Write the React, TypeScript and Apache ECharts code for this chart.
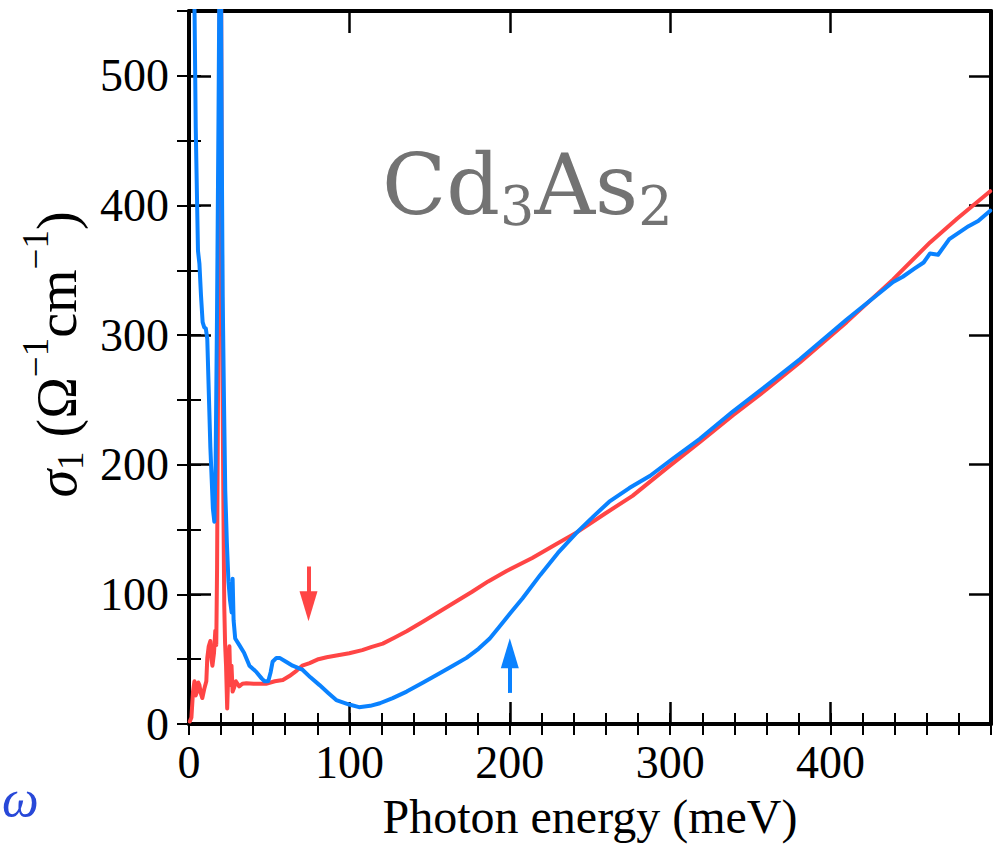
import React, { useEffect, useRef } from "react";
import * as echarts from "echarts";

// ---- data ----
const xTickValues = [0, 100, 200, 300, 400];
const yTickValues = [0, 100, 200, 300, 400, 500];

// red curve: [photon energy (meV), sigma1 (Ohm^-1 cm^-1)]
const redPoints: [number, number][] = [
  [0.5, 2], [1.5, 5], [2.5, 25], [3.4, 33], [4.2, 22], [5.0, 25], [5.8, 32], [6.5, 30],
  [7.3, 24], [8.3, 20], [9.5, 27], [10.8, 33], [11.4, 51], [12.3, 60], [13.3, 64], [14.0, 50],
  [14.6, 45], [15.6, 55], [16.4, 72], [17.0, 61], [17.5, 120], [18.2, 280], [18.8, 450],
  [19.2, 620], [19.9, 620], [20.4, 420], [20.9, 260], [21.5, 160], [22.0, 90], [22.5, 62],
  [23.1, 45], [23.8, 12], [24.5, 40], [25.2, 60], [25.8, 30], [26.5, 45], [27.2, 25],
  [28.1, 28], [29.2, 33], [31.3, 29], [33.3, 31], [35.8, 31.5], [40.3, 31], [48, 31],
  [53.5, 33], [58.5, 34], [62.6, 37], [67, 41], [70.6, 45], [75.2, 47], [80.7, 50],
  [85.8, 51.5], [92.8, 53], [99.9, 54.6], [108, 57], [114, 59.5], [120.8, 62], [128, 66.5],
  [135.7, 71.5], [146, 79], [156.5, 87], [166.5, 94.5], [176.5, 102], [186.5, 110], [198, 118],
  [214, 128], [228, 138], [242, 148], [259, 162], [276.5, 176], [297.5, 197], [319, 218],
  [339, 238], [360, 258], [381, 279], [410, 310], [439, 343], [462, 371.5], [479, 390],
  [499.5, 411],
];

// blue curve
const bluePoints: [number, number][] = [
  [2.5, 620], [3.5, 545], [4.2, 460], [5.0, 405], [5.6, 365], [6.5, 355], [7.5, 330],
  [8.5, 310], [9.5, 306], [10.5, 305], [11.4, 297], [12.2, 262], [13.3, 214], [14.1, 190],
  [14.9, 166], [15.8, 156], [16.6, 200], [17.5, 320], [18.4, 470], [19.2, 620], [19.8, 620],
  [20.4, 450], [21.0, 330], [21.8, 250], [22.6, 180], [23.6, 140], [24.6, 110], [25.6, 95],
  [26.6, 86], [27.2, 112], [27.8, 80], [28.8, 66], [31.3, 61], [34.3, 55], [37.7, 45],
  [42.1, 40], [45.4, 35], [47.1, 33], [49.4, 33], [50.9, 40], [52.1, 48], [54.5, 51],
  [56.5, 51], [60.5, 48], [64.6, 45], [70.6, 42], [75.7, 36], [81.4, 30], [86.8, 24],
  [91.8, 18.5], [99.9, 15], [106, 13], [113, 14], [119, 16], [127, 20], [135.7, 25],
  [146, 32], [156, 39], [164.5, 45], [173, 51], [180.5, 58], [187.5, 66], [193.5, 75],
  [200, 85], [208, 97], [219, 115], [230, 132], [242, 148], [252, 160], [262, 171.5],
  [274.5, 182], [287.5, 191.5], [301.5, 204.6], [318.5, 220], [339, 241], [360, 261],
  [381, 281.5], [410, 312], [439, 341], [445, 345], [452, 351], [458, 356], [462, 363],
  [467, 362], [474, 374], [480, 379], [486, 384], [492, 388], [499.5, 396],
];

// arrow annotations (data coordinates)
const redArrow = { x: 74.5, from: 121.5, to: 90.8 };
const blueArrow = { x: 200, from: 24, to: 54.6 };

const RED = "#ff4545";
const BLUE = "#0a82ff";
const serif = "'Liberation Serif', 'Times New Roman', serif";

function majorX(position: "bottom" | "top", withLabels: boolean) {
  return {
    type: "value",
    position,
    min: 0,
    max: 500,
    interval: 100,
    axisLine: { show: true, onZero: false, lineStyle: { color: "#000", width: 4 } },
    axisTick: { show: true, inside: true, length: 22, lineStyle: { color: "#000", width: 2.5 } },
    axisLabel: {
      show: withLabels,
      showMaxLabel: false,
      margin: 15,
      fontSize: 46,
      fontFamily: serif,
      color: "#000",
      formatter: (v: number) => (xTickValues.includes(v) ? String(v) : ""),
    },
    splitLine: { show: false },
    ...(withLabels
      ? {
          name: "Photon energy (meV)",
          nameLocation: "middle",
          nameGap: 68,
          nameTextStyle: { fontSize: 48, fontFamily: serif, color: "#000" },
        }
      : {}),
  };
}

function minorX(position: "bottom" | "top") {
  return {
    type: "value",
    position,
    min: 0,
    max: 500,
    interval: 20,
    axisLine: { show: false },
    axisTick: { show: true, inside: true, length: 11, lineStyle: { color: "#000", width: 2 } },
    axisLabel: { show: false },
    splitLine: { show: false },
  };
}

function majorY(position: "left" | "right", withLabels: boolean) {
  return {
    type: "value",
    position,
    min: 0,
    max: 550,
    interval: 100,
    axisLine: { show: true, onZero: false, lineStyle: { color: "#000", width: 4 } },
    axisTick: { show: true, inside: true, length: 22, lineStyle: { color: "#000", width: 2.5 } },
    axisLabel: {
      show: withLabels,
      showMaxLabel: false,
      margin: 20,
      fontSize: 46,
      fontFamily: serif,
      color: "#000",
      formatter: (v: number) => (yTickValues.includes(v) ? String(v) : ""),
    },
    splitLine: { show: false },
    ...(withLabels
      ? {
          name: "{it|σ}{sub|1}{n| (Ω}{sup|−1}{n|cm}{sup|−1}{n|)}",
          nameLocation: "middle",
          nameRotate: 90,
          nameGap: 100,
          nameTextStyle: {
            fontFamily: serif,
            color: "#000",
            padding: [0, 0, 0, 26],
            rich: {
              it: { fontSize: 56, fontFamily: serif, fontStyle: "italic", color: "#000", lineHeight: 56, verticalAlign: "top", padding: [12, 0, 0, 0] },
              n: { fontSize: 56, fontFamily: serif, color: "#000", lineHeight: 56, verticalAlign: "top", padding: [12, 0, 0, 0] },
              sub: { fontSize: 37, fontFamily: serif, color: "#000", lineHeight: 37, verticalAlign: "top", padding: [35, 0, 0, 0] },
              sup: { fontSize: 37, fontFamily: serif, color: "#000", lineHeight: 37, verticalAlign: "top" },
            },
          },
        }
      : {}),
  };
}

function minorY(position: "left" | "right") {
  return {
    type: "value",
    position,
    min: 0,
    max: 550,
    interval: 50,
    axisLine: { show: false },
    axisTick: { show: true, inside: true, length: 12, lineStyle: { color: "#000", width: 2 } },
    axisLabel: { show: false },
    splitLine: { show: false },
  };
}

function arrowLine(color: string, a: { x: number; from: number; to: number }) {
  return {
    silent: true,
    animation: false,
    symbol: ["none", "triangle"],
    symbolSize: [18, 30],
    label: { show: false },
    emphasis: { disabled: true },
    lineStyle: { color, width: 4, type: "solid" },
    data: [[{ coord: [a.x, a.from] }, { coord: [a.x, a.to] }]],
  };
}

const titleFont = "'DejaVu Serif', serif";

const option = {
  animation: false,
  backgroundColor: "#ffffff",
  title: {
    text: "{a|Cd}{b|3}{a|As}{b|2}",
    left: 382,
    top: 143,
    padding: 0,
    textStyle: {
      color: "#737373",
      fontWeight: "normal",
      rich: {
        a: { fontSize: 84, fontFamily: titleFont, fontWeight: "normal", color: "#737373", lineHeight: 84, verticalAlign: "top" },
        b: { fontSize: 54, fontFamily: titleFont, fontWeight: "normal", color: "#737373", lineHeight: 54, verticalAlign: "top", padding: [36, 0, 0, 0] },
      },
    },
  },
  graphic: [
    {
      type: "text",
      left: 2,
      top: 772,
      style: { text: "ω", fontSize: 52, fontFamily: serif, fontStyle: "italic", fill: "#2848d8" },
      silent: true,
    },
  ],
  grid: { left: 189, right: 10, top: 11, bottom: 119, containLabel: false },
  xAxis: [majorX("bottom", true), minorX("bottom"), majorX("top", false), minorX("top")],
  yAxis: [majorY("left", true), minorY("left"), majorY("right", false), minorY("right")],
  series: [
    {
      name: "red",
      type: "line",
      xAxisIndex: 0,
      yAxisIndex: 0,
      data: redPoints,
      showSymbol: false,
      symbol: "none",
      clip: true,
      lineStyle: { color: RED, width: 4, join: "round", cap: "round" },
      itemStyle: { color: RED },
      markLine: arrowLine(RED, redArrow),
    },
    {
      name: "blue",
      type: "line",
      xAxisIndex: 0,
      yAxisIndex: 0,
      data: bluePoints,
      showSymbol: false,
      symbol: "none",
      clip: true,
      lineStyle: { color: BLUE, width: 4, join: "round", cap: "round" },
      itemStyle: { color: BLUE },
      markLine: arrowLine(BLUE, blueArrow),
    },
  ],
};

export default function App() {
  const ref = useRef<HTMLDivElement>(null);
  useEffect(() => {
    if (!ref.current) return;
    const chart = echarts.init(ref.current, null, { renderer: "svg" });
    chart.setOption(option as any);
    return () => chart.dispose();
  }, []);
  return (
    <div
      ref={ref}
      style={{ position: "fixed", left: 0, top: 0, width: 1001, height: 845, background: "#fff" }}
    />
  );
}
